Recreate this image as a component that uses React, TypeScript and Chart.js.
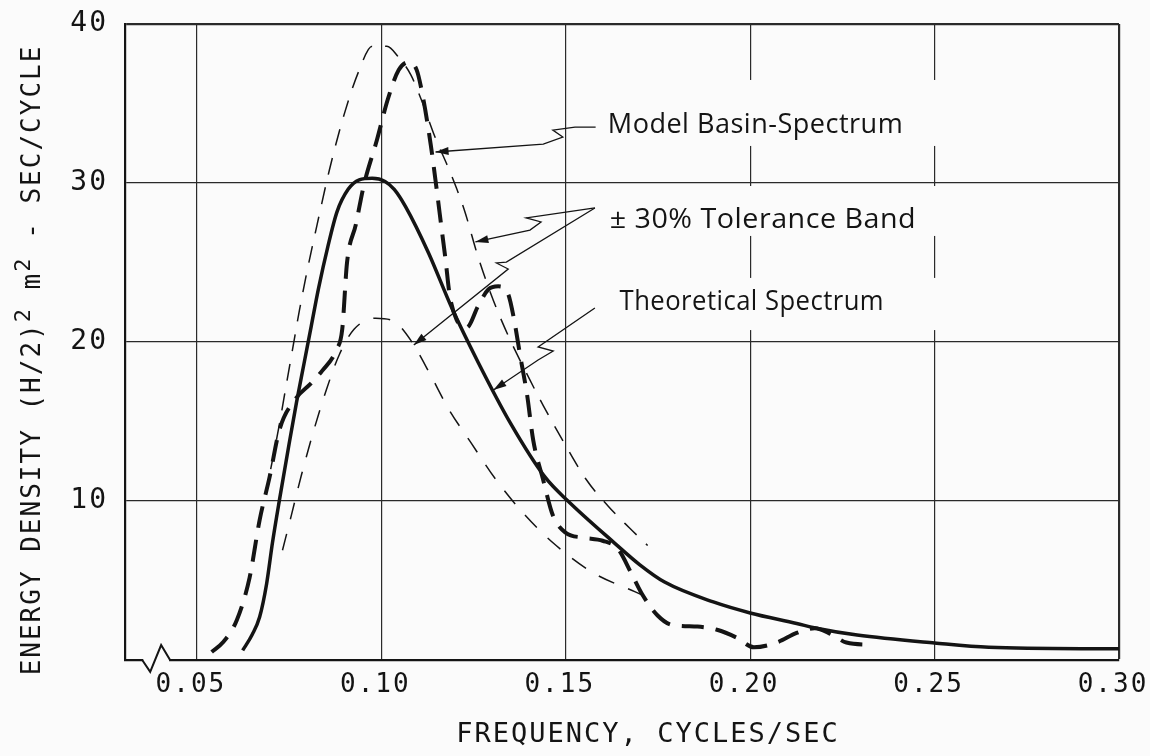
import React, { useEffect, useRef } from "react";
import { Chart, registerables } from "chart.js";

Chart.register(...registerables);

// ---------- data ----------
const theoFreq = [0.0624, 0.065, 0.067, 0.0689, 0.0705, 0.0724, 0.075, 0.077, 0.079, 0.081, 0.083, 0.0855, 0.088, 0.091, 0.094, 0.0975, 0.101, 0.1035, 0.1066, 0.1128, 0.119, 0.1263, 0.135, 0.1444, 0.1506, 0.163, 0.17, 0.1768, 0.19, 0.2, 0.2126, 0.218, 0.229, 0.25, 0.2647, 0.3];
const theoValues = [0.6, 1.6, 2.7, 4.8, 7.4, 10.1, 13.6, 16.2, 18.6, 21.0, 23.4, 26.0, 28.2, 29.6, 30.2, 30.3, 30.1, 29.6, 28.5, 25.6, 22.2, 18.7, 14.9, 11.5, 10.0, 7.4, 6.0, 4.9, 3.65, 2.96, 2.3, 2.0, 1.57, 1.07, 0.8, 0.7];

const basinFreq = [0.054, 0.057, 0.0608, 0.0643, 0.067, 0.0697, 0.0724, 0.077, 0.0805, 0.084, 0.0878, 0.0894, 0.0907, 0.0931, 0.0953, 0.0988, 0.1018, 0.1047, 0.1074, 0.1096, 0.1112, 0.1134, 0.115, 0.1163, 0.1174, 0.1185, 0.1204, 0.1231, 0.1263, 0.129, 0.1317, 0.1344, 0.136, 0.1376, 0.1395, 0.1412, 0.1438, 0.1465, 0.15, 0.1546, 0.16, 0.1641, 0.1681, 0.1708, 0.1749, 0.1789, 0.1857, 0.191, 0.1964, 0.201, 0.2072, 0.2126, 0.2175, 0.2221, 0.2261, 0.2334];
const basinValues = [0.5, 1.1, 2.5, 5.2, 8.8, 11.5, 14.5, 16.5, 17.3, 18.2, 19.5, 20.8, 25.0, 27.4, 29.9, 32.7, 35.3, 37.1, 37.6, 37.1, 35.5, 32.4, 29.6, 27.2, 25.2, 23.0, 21.4, 20.9, 22.3, 23.3, 23.5, 23.0, 21.4, 19.2, 16.7, 13.8, 11.4, 9.1, 8.0, 7.7, 7.5, 7.0, 5.3, 4.1, 2.8, 2.2, 2.1, 1.9, 1.4, 0.8, 1.1, 1.7, 2.0, 1.6, 1.1, 0.95];

const upperFreq = [0.07, 0.0721, 0.074, 0.0759, 0.0778, 0.0799, 0.0826, 0.0859, 0.0899, 0.094, 0.0975, 0.1015, 0.1047, 0.108, 0.1109, 0.1142, 0.1188, 0.1225, 0.1263, 0.1304, 0.1344, 0.139, 0.1439, 0.1492, 0.1554, 0.1614, 0.1673, 0.1722];
const upperValues = [12.0, 14.5, 17.0, 19.5, 22.0, 24.5, 27.4, 30.8, 34.3, 37.1, 38.6, 38.6, 37.9, 36.8, 35.2, 33.1, 30.6, 28.3, 25.3, 22.6, 20.4, 18.2, 16.0, 13.8, 11.4, 9.7, 8.3, 7.2];

const lowerFreq = [0.0732, 0.0756, 0.0783, 0.0815, 0.0851, 0.0886, 0.0926, 0.0985, 0.1034, 0.108, 0.1134, 0.1182, 0.1242, 0.1312, 0.139, 0.1474, 0.1573, 0.1687, 0.1745];
const lowerValues = [6.9, 9.1, 11.6, 14.3, 17.0, 19.2, 20.8, 21.5, 21.3, 20.1, 17.9, 15.8, 13.7, 11.3, 9.1, 7.2, 5.5, 4.3, 3.7];

const xTickValues = [0.05, 0.1, 0.15, 0.2, 0.25, 0.3];
const xTickLabels = ["0.05", "0.10", "0.15", "0.20", "0.25", "0.30"];
const yTickValues = [0, 10, 20, 30, 40];
const yTickLabels = ["", "10", "20", "30", "40"];

const xTitle = "FREQUENCY, CYCLES/SEC";
const yTitleParts: [string, boolean][] = [
  ["ENERGY DENSITY (H/2)", false],
  ["2", true],
  [" m", false],
  ["2", true],
  [" - SEC/CYCLE", false],
];

const labelModel = "Model Basin-Spectrum";
const labelBand = "\u00B1 30% Tolerance Band";
const labelTheo = "Theoretical Spectrum";

// ---------- styling / annotation geometry (in data coordinates) ----------
const BG = "#fbfbfb";
const INK = "#141414";
const MONO = '"DejaVu Sans Mono", monospace';
const SANS = '"Open Sans", "DejaVu Sans", sans-serif';

type Pt = [number, number];
const annotations: { text: string; at: Pt; span: number; box: [number, number, number, number]; leaders: Pt[][] }[] = [
  {
    text: labelModel,
    at: [0.1614, 33.14],
    span: 0.0801,
    box: [0.156, 0.2517, 36.48, 32.33],
    leaders: [[[0.1581, 33.52], [0.1525, 33.52], [0.1465, 33.33], [0.1492, 32.89], [0.1439, 32.45], [0.1147, 31.95]]],
  },
  {
    text: labelBand,
    at: [0.1619, 27.17],
    span: 0.0831,
    box: [0.156, 0.2517, 29.81, 26.67],
    leaders: [
      [[0.1579, 28.43], [0.1393, 27.8], [0.1433, 27.55], [0.1403, 27.04], [0.1255, 26.29]],
      [[0.1579, 28.43], [0.1339, 25.03], [0.1312, 24.97], [0.1344, 24.59], [0.1088, 19.81]],
    ],
  },
  {
    text: labelTheo,
    at: [0.1646, 22.01],
    span: 0.0717,
    box: [0.156, 0.2517, 24.03, 20.75],
    leaders: [[[0.1579, 22.14], [0.1425, 19.69], [0.1466, 19.43], [0.1425, 18.87], [0.1304, 16.98]]],
  },
];
const breakMark: Pt[] = [[0.03517, 0], [0.03733, -0.75], [0.0403, 0.94], [0.04272, 0]];

const toXY = (fs: number[], vs: number[]) => fs.map((f, i) => ({ x: f, y: vs[i] }));

const paperPlugin = {
  id: "paper",
  beforeDraw(chart: any) {
    const ctx = chart.ctx;
    ctx.save();
    ctx.fillStyle = BG;
    ctx.fillRect(0, 0, chart.width, chart.height);
    ctx.restore();
    ctx.letterSpacing = "2px";
  },
  beforeDatasetsDraw(chart: any) {
    const { ctx, scales } = chart;
    const x = scales.x, y = scales.y;
    ctx.save();
    ctx.fillStyle = BG;
    for (const a of annotations) {
      const x0 = x.getPixelForValue(a.box[0]);
      const x1 = x.getPixelForValue(a.box[1]);
      const y0 = y.getPixelForValue(a.box[2]);
      const y1 = y.getPixelForValue(a.box[3]);
      ctx.fillRect(x0, y0, x1 - x0, y1 - y0);
    }
    ctx.restore();
  },
  afterDraw(chart: any) {
    const { ctx, scales, chartArea } = chart;
    const x = scales.x, y = scales.y;
    const P = (p: Pt) => [x.getPixelForValue(p[0]), y.getPixelForValue(p[1])];

    // axis break
    ctx.save();
    const b = breakMark.map(P);
    ctx.fillStyle = BG;
    ctx.fillRect(b[0][0] + 1, b[0][1] - 3, b[3][0] - b[0][0] - 2, 6);
    ctx.strokeStyle = INK;
    ctx.lineWidth = 2;
    ctx.beginPath();
    b.forEach((p, i) => (i ? ctx.lineTo(p[0], p[1]) : ctx.moveTo(p[0], p[1])));
    ctx.stroke();
    ctx.restore();

    // annotations
    ctx.save();
    ctx.letterSpacing = "0.5px";
    ctx.fillStyle = INK;
    ctx.textBaseline = "alphabetic";
    ctx.textAlign = "left";
    for (const a of annotations) {
      const [tx, ty] = P(a.at);
      const target = x.getPixelForValue(a.at[0] + a.span) - tx;
      ctx.font = `28px ${SANS}`;
      const w = ctx.measureText(a.text).width;
      const sx = target / w;
      ctx.save();
      ctx.translate(tx, ty);
      ctx.scale(sx, 1);
      ctx.fillText(a.text, 0, 0);
      ctx.restore();
      for (const path of a.leaders) {
        const pts = path.map(P);
        ctx.strokeStyle = INK;
        ctx.lineWidth = 1.3;
        ctx.beginPath();
        pts.forEach((p, i) => (i ? ctx.lineTo(p[0], p[1]) : ctx.moveTo(p[0], p[1])));
        ctx.stroke();
        const tip = pts[pts.length - 1];
        const prev = pts[pts.length - 2];
        const ang = Math.atan2(tip[1] - prev[1], tip[0] - prev[0]);
        const L = 13, H = 4;
        ctx.beginPath();
        ctx.moveTo(tip[0], tip[1]);
        ctx.lineTo(tip[0] - L * Math.cos(ang) + H * Math.sin(ang), tip[1] - L * Math.sin(ang) - H * Math.cos(ang));
        ctx.lineTo(tip[0] - L * Math.cos(ang) - H * Math.sin(ang), tip[1] - L * Math.sin(ang) + H * Math.cos(ang));
        ctx.closePath();
        ctx.fill();
      }
    }
    ctx.restore();

    // axis titles
    ctx.save();
    ctx.letterSpacing = "2px";
    ctx.fillStyle = INK;
    ctx.font = `27px ${MONO}`;
    ctx.textAlign = "center";
    ctx.textBaseline = "middle";
    ctx.fillText(xTitle, (chartArea.left + chartArea.right) / 2 + 26, chart.height - 21);

    const cy = (chartArea.top + chartArea.bottom) / 2 + 18;
    ctx.translate(33, cy);
    ctx.rotate(-Math.PI / 2);
    ctx.textAlign = "left";
    const normal = `26px ${MONO}`;
    const sup = `22px ${MONO}`;
    let total = 0;
    const widths = yTitleParts.map(([t, s]) => {
      ctx.font = s ? sup : normal;
      const ww = ctx.measureText(t).width;
      total += ww;
      return ww;
    });
    let cx = -total / 2;
    yTitleParts.forEach(([t, s], i) => {
      ctx.font = s ? sup : normal;
      ctx.fillText(t, cx, s ? -9 : 0);
      cx += widths[i];
    });
    ctx.restore();
    ctx.letterSpacing = "0px";
  },
};

export default function App() {
  const ref = useRef<HTMLCanvasElement | null>(null);
  useEffect(() => {
    if (!ref.current) return;
    const chart = new Chart(ref.current, {
      type: "line",
      data: {
        datasets: [
          {
            label: "Theoretical Spectrum",
            data: toXY(theoFreq, theoValues),
            borderColor: INK,
            borderWidth: 3.5,
            pointRadius: 0,
            cubicInterpolationMode: "monotone",
            fill: false,
          },
          {
            label: "Model Basin-Spectrum",
            data: toXY(basinFreq, basinValues),
            borderColor: INK,
            borderWidth: 4,
            borderDash: [22, 12],
            pointRadius: 0,
            cubicInterpolationMode: "monotone",
            fill: false,
          },
          {
            label: "+30% Tolerance",
            data: toXY(upperFreq, upperValues),
            borderColor: INK,
            borderWidth: 1.5,
            borderDash: [17, 13],
            pointRadius: 0,
            cubicInterpolationMode: "monotone",
            fill: false,
          },
          {
            label: "-30% Tolerance",
            data: toXY(lowerFreq, lowerValues),
            borderColor: INK,
            borderWidth: 1.5,
            borderDash: [17, 15],
            pointRadius: 0,
            cubicInterpolationMode: "monotone",
            fill: false,
          },
        ],
      },
      options: {
        animation: false,
        responsive: true,
        maintainAspectRatio: false,
        layout: { padding: { left: 0, top: 24, right: 31, bottom: 0 } },
        plugins: { legend: { display: false }, tooltip: { enabled: false }, title: { display: false } },
        scales: {
          x: {
            type: "linear",
            min: 0.0305,
            max: 0.3,
            afterBuildTicks: (s: any) => {
              s.ticks = xTickValues.map((v) => ({ value: v }));
            },
            afterFit: (s: any) => {
              s.height = 96;
              s.paddingLeft = 0;
              s.paddingRight = 0;
            },
            ticks: {
              autoSkip: false,
              maxRotation: 0,
              padding: 12,
              labelOffset: -6,
              color: INK,
              font: { family: MONO, size: 26, lineHeight: 1 },
              callback: (_v: any, i: number) => xTickLabels[i] ?? "",
            },
            grid: {
              color: "#2a2a2a",
              lineWidth: (c: any) => (c.tick && c.tick.value >= 0.2999 ? 2.2 : 1.2),
              drawTicks: false,
            },
            border: { display: true, color: INK, width: 2.2 },
          },
          y: {
            type: "linear",
            min: 0,
            max: 40,
            afterBuildTicks: (s: any) => {
              s.ticks = yTickValues.map((v) => ({ value: v }));
            },
            afterFit: (s: any) => {
              s.width = 125;
              s.paddingTop = 0;
              s.paddingBottom = 0;
            },
            ticks: {
              padding: 17,
              color: INK,
              font: { family: MONO, size: 28, lineHeight: 1 },
              callback: (_v: any, i: number) => yTickLabels[i] ?? "",
            },
            grid: {
              color: "#2a2a2a",
              lineWidth: (c: any) => (c.tick && c.tick.value >= 40 ? 2.2 : 1.2),
              drawTicks: false,
            },
            border: { display: true, color: INK, width: 2.2 },
          },
        },
      },
      plugins: [paperPlugin],
    } as any);
    return () => chart.destroy();
  }, []);

  return (
    <div style={{ position: "fixed", left: 0, top: 0, width: 1150, height: 756, background: BG }}>
      <canvas ref={ref} />
    </div>
  );
}
